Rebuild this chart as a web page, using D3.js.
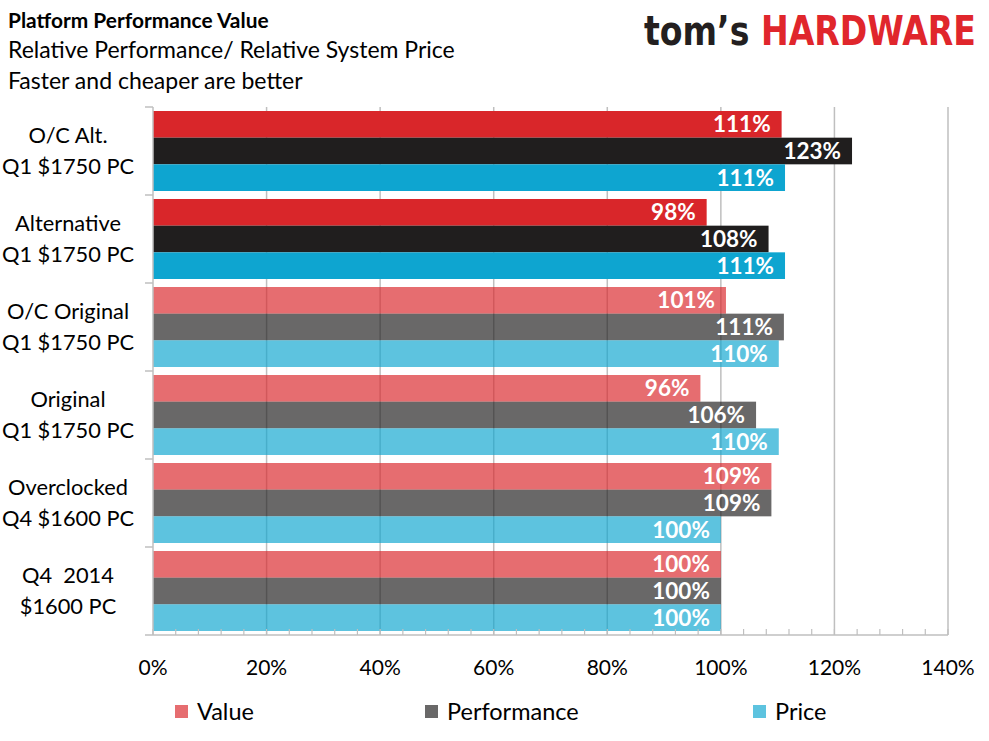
<!DOCTYPE html>
<html><head><meta charset="utf-8">
<script src="https://cdn.jsdelivr.net/npm/d3@7"></script>
<style>
body{margin:0;background:#fff;}
svg text{font-family:Lato,"Open Sans",sans-serif;}
</style></head>
<body>
<svg id="chart" width="989" height="741"></svg>
<script>
const categories = [
  ["O/C Alt.", "Q1 $1750 PC"],
  ["Alternative", "Q1 $1750 PC"],
  ["O/C Original", "Q1 $1750 PC"],
  ["Original", "Q1 $1750 PC"],
  ["Overclocked", "Q4 $1600 PC"],
  ["Q4  2014", "$1600 PC"]
];
const seriesNames = ["Value", "Performance", "Price"];
const valueSeries = [1.107, 0.975, 1.009, 0.964, 1.089, 1.00];
const performanceSeries = [1.231, 1.084, 1.111, 1.062, 1.089, 1.00];
const priceSeries = [1.113, 1.113, 1.102, 1.102, 1.00, 1.00];
const highlighted = [true, true, false, false, false, false];
const xTicks = [0, 0.2, 0.4, 0.6, 0.8, 1.0, 1.2, 1.4];
const seriesColors = ["#d9262a", "#201e1e", "#0ea5d0"];

const svg = d3.select("#chart");
const m = {left:153, right:948, top:107, bottom:635};

const x = d3.scaleLinear().domain([0, 1.4]).range([m.left, m.right]);
const y = d3.scaleBand().domain(d3.range(categories.length)).range([m.top, m.bottom])
  .paddingInner(0.0909).paddingOuter(0.04545);
const ys = d3.scaleBand().domain(d3.range(3)).range([0, y.bandwidth()]);
const color = d3.scaleOrdinal().domain(d3.range(3)).range(seriesColors);

// title
const titles = svg.append("g");
titles.append("text").attr("x", 8).attr("y", 28).attr("font-size", 20.9).attr("font-weight", "bold")
  .attr("fill", "#000").text("Platform Performance Value");
titles.append("text").attr("x", 8).attr("y", 58).attr("font-size", 23).attr("fill", "#000")
  .text("Relative Performance/ Relative System Price");
titles.append("text").attr("x", 8).attr("y", 89).attr("font-size", 23).attr("fill", "#000")
  .text("Faster and cheaper are better");

// logo
const logo = svg.append("text").attr("transform", "translate(644,45) scale(1,1.18)")
  .attr("font-size", 35).attr("font-weight", "bold")
  .style("font-family", "'DejaVu Sans Condensed','DejaVu Sans',sans-serif")
  .attr("textLength", 332).attr("lengthAdjust", "spacingAndGlyphs");
logo.append("tspan").attr("fill", "#231f20").text("tom’s ");
logo.append("tspan").attr("fill", "#e0262c").text("HARDWARE");

// gridlines
svg.append("g").selectAll("line").data(xTicks.slice(1)).join("line")
  .attr("x1", d => x(d)).attr("x2", d => x(d)).attr("y1", m.top).attr("y2", m.bottom)
  .attr("stroke", "#bfbfbf").attr("stroke-width", 1.5);

// bars
const rows = categories.map((c, i) => ({i, vals: [valueSeries[i], performanceSeries[i], priceSeries[i]]}));
const g = svg.append("g");
rows.forEach(r => {
  r.vals.forEach((v, s) => {
    const yy = y(r.i) + ys(s);
    g.append("rect").attr("x", x(0)).attr("y", yy).attr("width", x(v) - x(0)).attr("height", ys.bandwidth())
      .attr("fill", color(s)).attr("fill-opacity", highlighted[r.i] ? 1 : 0.67);
    g.append("text").attr("x", x(v) - 11).attr("y", yy + ys.bandwidth()/2).attr("dy", "0.36em")
      .attr("text-anchor", "end").attr("fill", "#fff").attr("font-weight", "bold").attr("font-size", 22.5)
      .text(d3.format(".0%")(v));
  });
});

// axes
const axisColor = "#bfbfbf";
svg.append("line").attr("x1", m.left).attr("x2", m.right).attr("y1", m.bottom).attr("y2", m.bottom)
  .attr("stroke", axisColor).attr("stroke-width", 1.5);
svg.append("line").attr("x1", m.left).attr("x2", m.left).attr("y1", m.top).attr("y2", m.bottom)
  .attr("stroke", axisColor).attr("stroke-width", 1.5);
// minor ticks
svg.append("g").selectAll("line").data(d3.range(0, 1.4001, 0.04)).join("line")
  .attr("x1", d => x(d)).attr("x2", d => x(d)).attr("y1", m.bottom - 6).attr("y2", m.bottom)
  .attr("stroke", axisColor).attr("stroke-width", 1.2);
// category ticks
const bounds = d3.range(categories.length + 1).map(i => m.top + i * y.step());
svg.append("g").selectAll("line").data(bounds).join("line")
  .attr("x1", m.left - 8).attr("x2", m.left).attr("y1", d => d).attr("y2", d => d)
  .attr("stroke", axisColor).attr("stroke-width", 1.5);

// x tick labels
svg.append("g").selectAll("text").data(xTicks).join("text")
  .attr("x", d => x(d)).attr("y", 675).attr("text-anchor", "middle").attr("font-size", 21).attr("fill", "#000")
  .text(d => d3.format(".0%")(d));

// category labels
const cl = svg.append("g");
categories.forEach((c, i) => {
  const cy = y(i) + y.bandwidth()/2;
  const t = cl.append("text").attr("text-anchor", "middle").attr("font-size", 21.8).attr("fill", "#000")
    .style("white-space", "pre");
  t.append("tspan").attr("x", 68).attr("y", cy - 8).text(c[0]);
  t.append("tspan").attr("x", 68).attr("y", cy + 23).text(c[1]);
});

// legend
const legendX = [175, 425, 753];
const lg = svg.append("g");
seriesNames.forEach((n, s) => {
  lg.append("rect").attr("x", legendX[s]).attr("y", 705).attr("width", 13).attr("height", 13)
    .attr("fill", color(s)).attr("fill-opacity", 0.67);
  lg.append("text").attr("x", legendX[s] + 22).attr("y", 720).attr("font-size", 23.5).attr("fill", "#000").text(n);
});
</script>
</body></html>
